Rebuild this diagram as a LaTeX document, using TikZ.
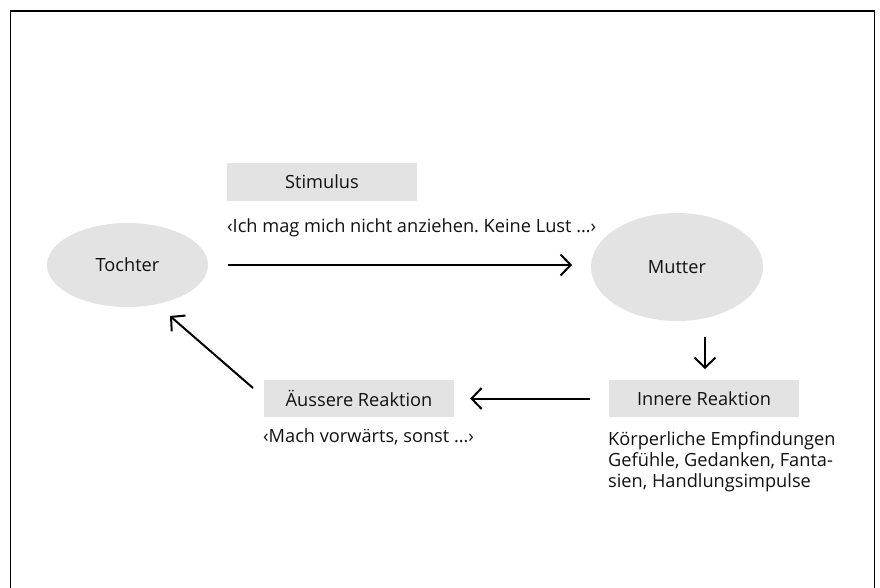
\documentclass[tikz,border=0pt]{standalone}
\usepackage{fontspec}
\setmainfont{Open Sans}
\usetikzlibrary{shapes.geometric,arrows.meta}
\frenchspacing
\definecolor{boxgray}{HTML}{E3E3E3}
\definecolor{txt}{HTML}{111111}
\tikzset{
  lbl/.style={font=\fontsize{18.2}{21}\selectfont, text=txt},
  blob/.style={ellipse, fill=boxgray, inner sep=0pt, lbl},
  tag/.style={rectangle, fill=boxgray, inner sep=0pt, minimum width=190pt, minimum height=37pt, lbl},
  note/.style={inner sep=0pt, lbl, align=left},
  arr/.style={draw=black, line width=2pt, -{Straight Barb[length=10pt,width=21pt,line width=2pt]}},
  frame/.style={draw=black, line width=1.4pt}
}
\begin{document}
\begin{tikzpicture}[x=1pt,y=-1pt]
\useasboundingbox (0,0) rectangle (880,587);
\draw[frame] (10.5,590) -- (10.5,11) -- (874.5,11) -- (874.5,590);

\node[blob, minimum width=161pt, minimum height=84pt] (tochter) at (127.5,265) {Tochter};
\node[blob, minimum width=172pt, minimum height=108pt] (mutter) at (677,267) {Mutter};

\node[tag, minimum height=38pt] (stim) at (322,182) {Stimulus};
\node[note, anchor=west] (q1) at (227,228) {‹Ich mag mich nicht anziehen. Keine Lust …›};

\node[tag] (innen) at (704,398.5) {Innere Reaktion};
\node[tag] (aussen) at (359,398.5) {Äussere Reaktion};
\node[note, anchor=west] (q2) at (263,437) {‹Mach vorwärts, sonst …›};
\node[note, anchor=west] (inn) at (608,462) {Körperliche Empfindungen\\Gefühle, Gedanken, Fanta-\\sien, Handlungsimpulse};

\coordinate (s1) at (228,265);
\coordinate (e1) at (572,265);
\coordinate (s2) at (705,337);
\coordinate (e2) at (705,369);
\coordinate (s4) at (253,388);
\coordinate (e4) at (170,316);

\draw[arr] (s1) -- (e1);
\draw[arr] (s2) -- (e2);
\draw[arr, shorten <=19pt, shorten >=16pt] (innen.west) -- (aussen.east);
\draw[arr] (s4) -- (e4);
\end{tikzpicture}
\end{document}
